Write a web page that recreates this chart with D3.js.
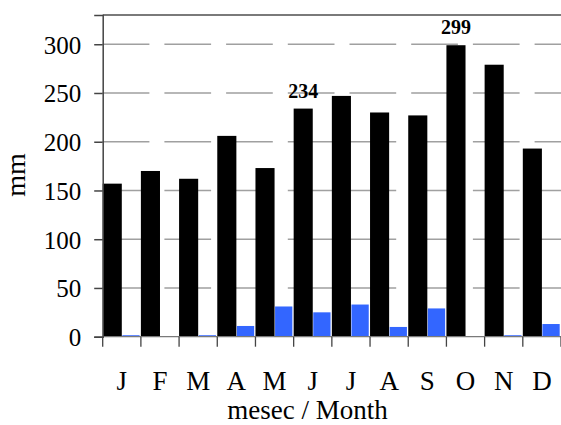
<!DOCTYPE html>
<html>
<head>
<meta charset="utf-8">
<script src="https://cdn.jsdelivr.net/npm/d3@7"></script>
<style>
  html, body { margin: 0; padding: 0; background: #fff; }
  svg { display: block; }
  svg text { font-family: "Liberation Serif", "Times New Roman", Times, serif !important; fill: #000; }
</style>
</head>
<body>
<svg id="chart" width="561" height="425"></svg>
<script>
// Monthly precipitation (black) and second series (blue), mm
const months = ["J", "F", "M", "A", "M", "J", "J", "A", "S", "O", "N", "D"];
const precipitation = [157, 170, 162, 206, 173, 234, 247, 230, 227, 299, 279, 193];
const secondary = [1.5, 0, 1.5, 11, 31, 25, 33, 10, 29, 0, 1.5, 13];
const yTicks = [0, 50, 100, 150, 200, 250, 300];
const labelled = [5, 9]; // months whose value is written above the bar

const serif = "'Liberation Serif', 'Times New Roman', serif";
const svg = d3.select("#chart");
const plotLeft = 102.7, plotRight = 561, plotTop = 15, plotBottom = 336.7;

const x = d3.scaleBand().domain(d3.range(months.length)).range([plotLeft, plotRight]).padding(0);
const y = d3.scaleLinear().domain([0, 330]).range([plotBottom, plotTop]);
const bw = x.bandwidth();

// dashed horizontal grid
svg.append("g").selectAll("line")
  .data(yTicks.filter(d => d > 0))
  .join("line")
  .attr("x1", plotLeft).attr("x2", plotRight)
  .attr("y1", d => y(d)).attr("y2", d => y(d))
  .attr("stroke", "#a0a0a0").attr("stroke-width", 1.5)
  .attr("stroke-dasharray", "46.7 15");

// top frame line
svg.append("line")
  .attr("x1", plotLeft).attr("x2", plotRight).attr("y1", plotTop).attr("y2", plotTop)
  .attr("stroke", "#7a7a7a").attr("stroke-width", 2);

// bars
svg.append("g").selectAll("rect")
  .data(precipitation)
  .join("rect")
  .attr("x", (d, i) => x(i))
  .attr("width", bw / 2)
  .attr("y", d => y(d))
  .attr("height", d => y(0) - y(d))
  .attr("fill", "#000");

svg.append("g").selectAll("rect")
  .data(secondary)
  .join("rect")
  .attr("x", (d, i) => x(i) + bw / 2 + 0.5)
  .attr("width", bw / 2 - 1.8)
  .attr("y", d => y(d))
  .attr("height", d => y(0) - y(d))
  .attr("fill", "#3366ff");

// value labels
svg.append("g").selectAll("text")
  .data(labelled)
  .join("text")
  .attr("x", i => x(i) + bw / 4)
  .attr("y", i => y(precipitation[i]) - 11)
  .attr("text-anchor", "middle")
  .style("font-family", serif)
  .style("font-weight", "bold")
  .style("font-size", "20px")
  .text(i => precipitation[i]);

// baseline
svg.append("line")
  .attr("x1", plotLeft).attr("x2", plotRight).attr("y1", plotBottom).attr("y2", plotBottom)
  .attr("stroke", "#7a7a7a").attr("stroke-width", 1.2);

// y axis
const yAxis = svg.append("g")
  .attr("transform", `translate(${plotLeft},0)`)
  .attr("font-family", serif)
  .call(d3.axisLeft(y).tickValues(yTicks).tickSize(8.5).tickPadding(13));
yAxis.attr("font-family", serif);
yAxis.select(".domain").attr("stroke", "#444").attr("stroke-width", 1.5);
yAxis.selectAll(".tick line").attr("stroke", "#444").attr("stroke-width", 1.5);
yAxis.selectAll(".tick text")
  .style("font-family", serif)
  .style("font-size", "25px")
  .attr("dy", "0.36em");

// x tick marks at band boundaries
svg.append("g").selectAll("line")
  .data(d3.range(months.length + 1))
  .join("line")
  .attr("x1", i => plotLeft + i * bw).attr("x2", i => plotLeft + i * bw)
  .attr("y1", plotBottom).attr("y2", plotBottom + 10)
  .attr("stroke", "#444").attr("stroke-width", 1.3);

// month labels
svg.append("g").selectAll("text")
  .data(months)
  .join("text")
  .attr("x", (d, i) => x(i) + bw / 2)
  .attr("y", 390)
  .attr("text-anchor", "middle")
  .style("font-family", serif)
  .style("font-size", "27px")
  .text(d => d);

// axis titles
svg.append("text")
  .attr("x", 307.5).attr("y", 419)
  .attr("text-anchor", "middle")
  .style("font-family", serif)
  .style("font-size", "27px")
  .text("mesec / Month");

svg.append("text")
  .attr("transform", "translate(25,175) rotate(-90)")
  .attr("text-anchor", "middle")
  .style("font-family", serif)
  .style("font-size", "28px")
  .text("mm");
</script>
</body>
</html>
